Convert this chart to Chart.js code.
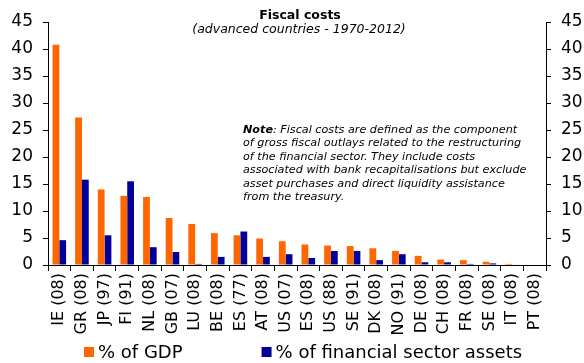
<!DOCTYPE html>
<html>
<head>
<meta charset="utf-8">
<script src="https://cdn.jsdelivr.net/npm/chart.js@4.4.0/dist/chart.umd.min.js"></script>
<style>
  html, body { margin: 0; padding: 0; background: #fff; }
</style>
</head>
<body>
<canvas id="fiscalChart" width="584" height="363"></canvas>
<script>
// Fiscal costs of banking crises, advanced countries 1970-2012
const countries = ['IE (08)', 'GR (08)', 'JP (97)', 'FI (91)', 'NL (08)', 'GB (07)', 'LU (08)', 'BE (08)',
  'ES (77)', 'AT (08)', 'US (07)', 'ES (08)', 'US (88)', 'SE (91)', 'DK (08)', 'NO (91)',
  'DE (08)', 'CH (08)', 'FR (08)', 'SE (08)', 'IT (08)', 'PT (08)'];
const gdpShare = [40.8, 27.3, 14.0, 12.8, 12.6, 8.7, 7.6, 5.9, 5.5, 4.9, 4.4, 3.8,
  3.6, 3.5, 3.1, 2.6, 1.7, 1.0, 0.9, 0.6, 0.2, 0];
const assetShare = [4.6, 15.8, 5.5, 15.5, 3.3, 2.4, 0.2, 1.5, 6.2, 1.5, 2.0, 1.3,
  2.6, 2.6, 0.9, 2.0, 0.5, 0.5, 0.2, 0.3, 0.1, 0];
const seriesNames = ['% of GDP', '% of financial sector assets'];
const seriesColors = ['#FF6600', '#000099'];
const yMax = 45;
const yStep = 5;

const titleText = 'Fiscal costs';
const subtitleText = '(advanced countries - 1970-2012)';
const noteLead = 'Note';
const noteLines = [
  ': Fiscal costs are defined as the component',
  'of gross fiscal outlays related to the restructuring',
  'of the financial sector. They include costs',
  'associated with bank recapitalisations but exclude',
  'asset purchases and direct liquidity assistance',
  'from the treasury.'
];

const FONT = '"DejaVu Sans", Verdana, sans-serif';

// title, note box and legend drawn straight onto the canvas
const decorations = {
  id: 'decorations',
  afterDraw(chart) {
    const ctx = chart.ctx;
    ctx.save();
    ctx.fillStyle = '#000';
    ctx.textBaseline = 'alphabetic';

    ctx.textAlign = 'center';
    ctx.font = 'bold 12.5px ' + FONT;
    ctx.fillText(titleText, 300, 19);
    ctx.font = 'italic 12.5px ' + FONT;
    ctx.fillText(subtitleText, 299, 33);

    ctx.textAlign = 'left';
    const nx = 243, ny = 133, lh = 13.45;
    ctx.font = 'italic bold 11.2px ' + FONT;
    ctx.fillText(noteLead, nx, ny);
    const leadW = ctx.measureText(noteLead).width;
    ctx.font = 'italic 11.2px ' + FONT;
    noteLines.forEach((line, i) => {
      ctx.fillText(line, i === 0 ? nx + leadW : nx, ny + i * lh);
    });

    // legend
    ctx.font = '18px ' + FONT;
    ctx.textBaseline = 'middle';
    let lx = 84;
    const ly = 352;
    chart.data.datasets.forEach(ds => {
      ctx.fillStyle = ds.backgroundColor;
      ctx.fillRect(lx, ly - 5, 10, 10);
      ctx.fillStyle = '#000';
      ctx.fillText(ds.label, lx + 14, ly + 1);
      lx += 14 + ctx.measureText(ds.label).width + 79;
    });
    ctx.restore();
  }
};

const yAxis = (position, width) => ({
  position: position,
  min: 0,
  max: yMax,
  border: { display: true, color: '#000', width: 1 },
  grid: { drawOnChartArea: false, color: '#000', tickLength: 5, tickWidth: 1 },
  ticks: { stepSize: yStep, color: '#000', padding: 10, font: { family: FONT, size: 17 } },
  afterFit(scale) { scale.width = width; }
});

new Chart(document.getElementById('fiscalChart'), {
  type: 'bar',
  data: {
    labels: countries,
    datasets: [
      { label: seriesNames[0], data: gdpShare, backgroundColor: seriesColors[0], yAxisID: 'y' },
      { label: seriesNames[1], data: assetShare, backgroundColor: seriesColors[1], yAxisID: 'y' }
    ]
  },
  options: {
    responsive: false,
    animation: false,
    devicePixelRatio: 1,
    layout: { padding: { top: 22, right: 0, bottom: 0, left: 0 } },
    datasets: { bar: { categoryPercentage: 0.6, barPercentage: 1.0 } },
    plugins: { legend: { display: false }, tooltip: { enabled: false } },
    scales: {
      x: {
        border: { display: true, color: '#000', width: 1 },
        grid: { drawOnChartArea: false, color: '#000', tickLength: 6, offset: true },
        ticks: { color: '#000', minRotation: 90, maxRotation: 90, padding: 2, font: { family: FONT, size: 16 } },
        afterFit(scale) { scale.height = 98; }
      },
      y: yAxis('left', 48),
      y1: yAxis('right', 38)
    }
  },
  plugins: [decorations]
});
</script>
</body>
</html>
